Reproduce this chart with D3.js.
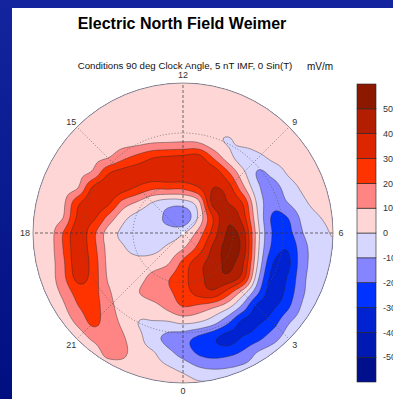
<!DOCTYPE html>
<html>
<head>
<meta charset="utf-8">
<script src="https://cdn.jsdelivr.net/npm/d3@7"></script>
<style>
  html, body { margin: 0; padding: 0; overflow: hidden; background: #fff; }
  svg { display: block; }
  text { font-family: "Liberation Sans", Arial, Helvetica, sans-serif; }
</style>
</head>
<body>
<svg id="chart" width="393" height="399"></svg>
<script>
// Northward electric field (mV/m) over the northern polar cap, sampled on a
// 21 x 21 grid: rows run from the noon edge (top) to the midnight edge (bottom),
// columns from the dusk edge (left) to the dawn edge (right).
const fieldRows = [
  [5,5,5,5,5,5,5,5,5,5,5,5,5,5,5,5,5,5,5,5,5],
  [5,5,5,5,5,5,5,5,5,5,5,5,5,5,5,5,5,5,5,5,5],
  [5,5,5,5,5,5,5,5,5,5,5,5,4,4,5,5,5,5,5,5,5],
  [5,5,5,5,5,5,5,5,4,4,4,4,2,2,4,5,5,5,5,5,5],
  [5,5,5,5,6,6,7,8,10,10.5,11,10.5,4,-0.5,2,4,5,5,5,5,5],
  [5,5,5,6,8,10,18,24,30,32,33,35,20,5,-5,-3,2,4,5,5,5],
  [5,5,6,8,12,29,34,36,37,38,38,38,37,22,3,-11,-7,1,4,5,5],
  [5,5,7,10,32,37,34,28,22,22,22,29,40,35,13,-8,-14,-5,1.5,4,5],
  [5,6,8,28,36,32,16,8,-1,-6,-5,5.5,43,40,29,-3,-16,-10,-2,3,5],
  [5,6,10,32,32,17,3,-4,-7,-12,-18,1,30,48,35,0,-22,-20,-7,-1,3],
  [5,5,20,36,23,6,-2,-5,-6,-6,-1,13,34,51,44,3,-21,-23,-10,-5,1],
  [5,5,20,36,24,7,1,-4,-3,2,9,23,42,53,46,2,-23,-29,-13,-6,-2],
  [5,5,18,36,26,8,5,4,5,9,23,36,44,52,41,-1,-30,-32,-13,-7,-3],
  [5,5,17,33,26,9,5,7,13,19,27,36,45,47,34,-8,-34,-29,-12,-6,-4],
  [5,5,12,24,24,12,5,9.5,14,18,25,33,37,24,4,-19,-36,-26,-11,-5,-3],
  [5,5,8,19,24,14,6,4,6,12,19,16,10,1,-15,-34,-31,-21,-8,-4,-3],
  [5,5,5,12,22,15,8,0,-1,-1.5,1,-1,-7,-19,-33,-31,-24,-11,-5,-4,-3],
  [5,5,5,5,12,16,11,3,-6,-13,-16,-22,-28,-34,-29,-23,-14,-6,-4,-4,-3],
  [5,5,5,5,5,13,12,4,1,-7,-14,-21,-24,-23,-18,-9,-5,-4,-4,-4,-3],
  [5,5,5,5,5,5,6,4,3,1,-3,-9,-11,-10,-8,-6,-4,-4,-4,-4,-3],
  [5,5,5,5,5,5,5,4,4,4,4,1,0.5,-3,-4,-4,-4,-4,-4,-4,-3]
];

// Contour levels (mV/m) and the colour of each band, lowest band first.
const levels = [-50, -40, -30, -20, -10, 0, 10, 20, 30, 40, 50];
const bandColors = [
  "#00108c", "#0019b3", "#0022d0", "#0033ff", "#8585ff", "#d6d6ff",
  "#ffd6d6", "#ff8585", "#ff3300", "#dd2500", "#b41e00", "#8c1800"
];

// Magnetic local time labels and dotted colatitude circles (degrees).
const hourTicks = [0, 3, 6, 9, 12, 15, 18, 21];
const colatMax = 45;
const colatRings = [15, 30];

const titleText = "Electric North Field Weimer";
const subtitleText = "Conditions 90 deg Clock Angle, 5 nT IMF, 0 Sin(T)";
const unitText = "mV/m";

// ---------------------------------------------------------------------------
const W = 393, H = 399;
const cx = 183, cy = 233, R = 150;
const svg = d3.select("#chart");
const defs = svg.append("defs");

// blue slide backdrop with a white panel
const grad = defs.append("linearGradient").attr("id", "bg")
  .attr("x1", 0).attr("y1", 0).attr("x2", 0).attr("y2", 1);
grad.append("stop").attr("offset", "0%").attr("stop-color", "#13249e");
grad.append("stop").attr("offset", "100%").attr("stop-color", "#000f80");
svg.append("rect").attr("width", W).attr("height", H).attr("fill", "url(#bg)");
svg.append("rect").attr("x", 12).attr("y", 8).attr("width", W - 12).attr("height", H - 8).attr("fill", "#fff");

// titles
svg.append("text").attr("x", 182).attr("y", 29).attr("text-anchor", "middle")
  .attr("font-size", 16).attr("font-weight", "bold").attr("fill", "#000").text(titleText);
svg.append("text").attr("x", 185).attr("y", 69).attr("text-anchor", "middle")
  .attr("font-size", 9.7).attr("fill", "#111").text(subtitleText);
svg.append("text").attr("x", 307).attr("y", 70)
  .attr("font-size", 10).attr("fill", "#111").text(unitText);

// resample the grid with a cubic kernel so the filled contours come out smooth
const nGrid = fieldRows.length;
const factor = 6;
const N = (nGrid - 1) * factor + 1;
function cell(r, c) {
  r = Math.max(0, Math.min(nGrid - 1, r));
  c = Math.max(0, Math.min(nGrid - 1, c));
  return fieldRows[r][c];
}
function cubic(p0, p1, p2, p3, t) {
  return p1 + 0.5 * t * (p2 - p0 + t * (2 * p0 - 5 * p1 + 4 * p2 - p3 + t * (3 * (p1 - p2) + p3 - p0)));
}
const fine = new Float64Array(N * N);
for (let y = 0; y < N; y++) {
  const gy = y / factor, r = Math.floor(gy), ty = gy - r;
  for (let x = 0; x < N; x++) {
    const gx = x / factor, c = Math.floor(gx), tx = gx - c;
    const col = k => cubic(cell(r - 1, c + k), cell(r, c + k), cell(r + 1, c + k), cell(r + 2, c + k), ty);
    fine[y * N + x] = cubic(col(-1), col(0), col(1), col(2), tx);
  }
}

// grid coordinates -> page pixels
const xPix = d3.scaleLinear().domain([0.5, N - 0.5]).range([cx - R, cx + R]);
const yPix = d3.scaleLinear().domain([0.5, N - 0.5]).range([cy - R, cy + R]);
const gridPath = d3.geoPath(d3.geoTransform({
  point(x, y) { this.stream.point(xPix(x), yPix(y)); }
}));
const color = d3.scaleThreshold().domain(levels).range(bandColors);

const contours = d3.contours().size([N, N]).thresholds(levels)(fine);

defs.append("clipPath").attr("id", "cap")
  .append("circle").attr("cx", cx).attr("cy", cy).attr("r", R);

const plot = svg.append("g").attr("clip-path", "url(#cap)");
plot.append("circle").attr("cx", cx).attr("cy", cy).attr("r", R).attr("fill", bandColors[0]);
plot.selectAll("path.fill").data(contours).join("path")
  .attr("class", "fill")
  .attr("d", gridPath)
  .attr("fill", d => color(d.value));
plot.selectAll("path.line").data(contours).join("path")
  .attr("class", "line")
  .attr("d", gridPath)
  .attr("fill", "none")
  .attr("stroke", "#2a2a2a")
  .attr("stroke-opacity", 0.85)
  .attr("stroke-width", 0.5);

// polar grid
const rScale = d3.scaleLinear().domain([0, colatMax]).range([0, R]);
const ang = h => (12 - h) * Math.PI / 12;           // clockwise from noon at the top
const polarX = (h, r) => cx + r * Math.sin(ang(h));
const polarY = (h, r) => cy - r * Math.cos(ang(h));

const grid = svg.append("g");
grid.selectAll("circle.ring").data(colatRings).join("circle")
  .attr("class", "ring")
  .attr("cx", cx).attr("cy", cy).attr("r", d => rScale(d))
  .attr("fill", "none").attr("stroke", "#555").attr("stroke-width", 0.7)
  .attr("stroke-dasharray", "1,2");
grid.selectAll("line.diag").data(hourTicks.filter(h => h % 6 !== 0)).join("line")
  .attr("class", "diag")
  .attr("x1", cx).attr("y1", cy)
  .attr("x2", d => polarX(d, rScale(colatMax))).attr("y2", d => polarY(d, rScale(colatMax)))
  .attr("stroke", "#555").attr("stroke-width", 0.7).attr("stroke-dasharray", "1,2");
grid.selectAll("line.axis").data(hourTicks.filter(h => h % 6 === 0 && h < 12)).join("line")
  .attr("class", "axis")
  .attr("x1", d => polarX(d, rScale(colatMax))).attr("y1", d => polarY(d, rScale(colatMax)))
  .attr("x2", d => polarX(d + 12, rScale(colatMax))).attr("y2", d => polarY(d + 12, rScale(colatMax)))
  .attr("stroke", "#333").attr("stroke-width", 0.7).attr("stroke-dasharray", "3,2");
grid.append("circle").attr("cx", cx).attr("cy", cy).attr("r", R)
  .attr("fill", "none").attr("stroke", "#777").attr("stroke-width", 0.8);
grid.append("circle").attr("cx", cx).attr("cy", cy).attr("r", 1.8)
  .attr("fill", "#fff").attr("stroke", "none");

grid.selectAll("text.hour").data(hourTicks).join("text")
  .attr("class", "hour")
  .attr("x", d => polarX(d, R + 8))
  .attr("y", d => polarY(d, R + 8) + 3.3)
  .attr("text-anchor", "middle")
  .attr("font-size", 9).attr("fill", "#333")
  .text(d => d);

// colour bar
const cbX = 357, cbW = 19, cbTop = 84, cbBottom = 382;
const cbScale = d3.scaleLinear().domain([0, bandColors.length]).range([cbBottom, cbTop]);
const cb = svg.append("g");
cb.selectAll("rect").data(bandColors).join("rect")
  .attr("x", cbX).attr("width", cbW)
  .attr("y", (d, i) => cbScale(i + 1))
  .attr("height", (d, i) => cbScale(i) - cbScale(i + 1))
  .attr("fill", d => d)
  .attr("stroke", "#222").attr("stroke-width", 0.6);
cb.selectAll("text").data(levels).join("text")
  .attr("x", 383)
  .attr("y", (d, i) => cbScale(i + 1) + 3.2)
  .attr("font-size", 9).attr("fill", "#333")
  .text(d => d);
</script>
</body>
</html>
